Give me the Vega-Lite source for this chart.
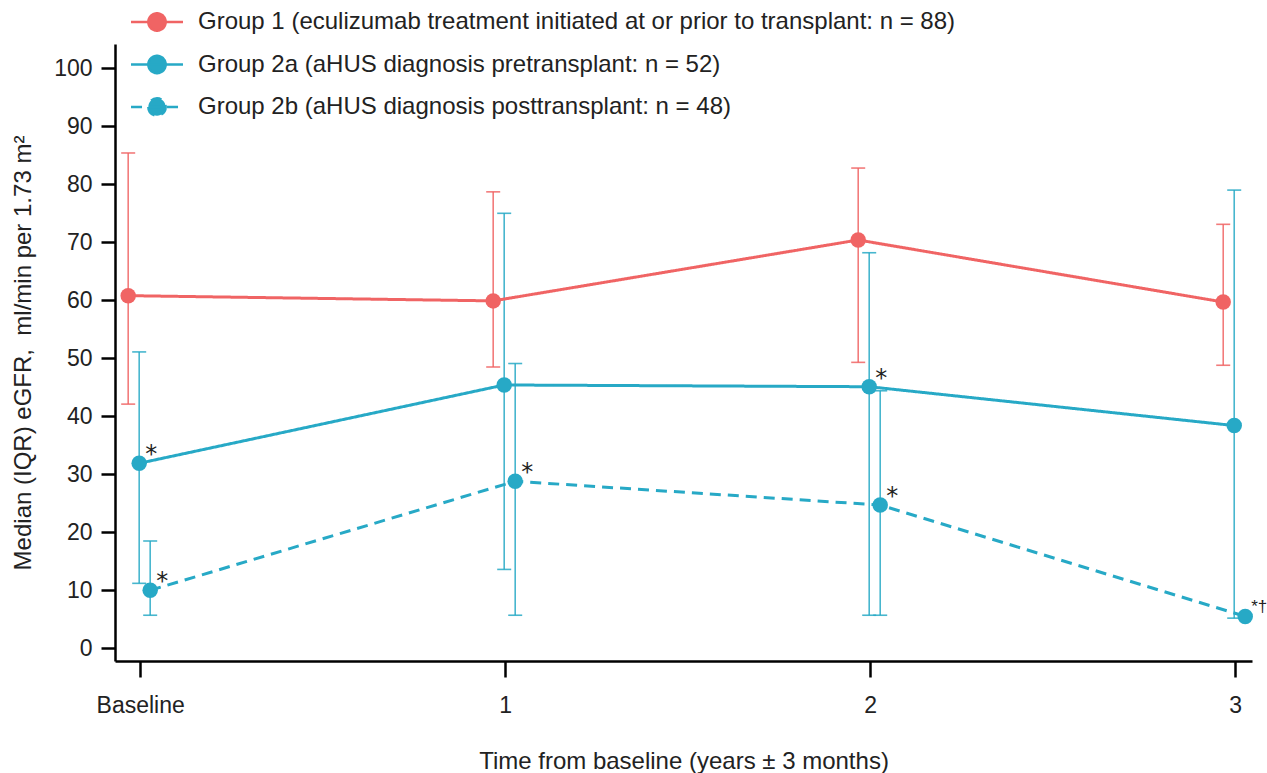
{
  "$schema": "https://vega.github.io/schema/vega-lite/v6.json",
  "width": 1137,
  "height": 617,
  "autosize": {"type": "none"},
  "padding": {"left": 115, "top": 44, "right": 15, "bottom": 112},
  "background": "white",
  "config": {"view": {"stroke": null}, "font": "Liberation Sans"},
  "data": {
    "values": [
      {"group": "Group 1", "time": "Baseline", "median": 60.8, "q1": 42.1, "q3": 85.4, "sig": ""},
      {"group": "Group 1", "time": "1", "median": 59.9, "q1": 48.5, "q3": 78.7, "sig": ""},
      {"group": "Group 1", "time": "2", "median": 70.4, "q1": 49.3, "q3": 82.8, "sig": ""},
      {"group": "Group 1", "time": "3", "median": 59.7, "q1": 48.8, "q3": 73.1, "sig": ""},
      {"group": "Group 2a", "time": "Baseline", "median": 31.9, "q1": 11.2, "q3": 51.1, "sig": "*"},
      {"group": "Group 2a", "time": "1", "median": 45.4, "q1": 13.6, "q3": 75.0, "sig": ""},
      {"group": "Group 2a", "time": "2", "median": 45.1, "q1": 5.7, "q3": 68.2, "sig": "*"},
      {"group": "Group 2a", "time": "3", "median": 38.4, "q1": 5.2, "q3": 79.0, "sig": ""},
      {"group": "Group 2b", "time": "Baseline", "median": 10.0, "q1": 5.7, "q3": 18.5, "sig": "*"},
      {"group": "Group 2b", "time": "1", "median": 28.8, "q1": 5.7, "q3": 49.1, "sig": "*"},
      {"group": "Group 2b", "time": "2", "median": 24.7, "q1": 5.7, "q3": 44.4, "sig": "*"},
      {"group": "Group 2b", "time": "3", "median": 5.5, "q1": null, "q3": null, "sig": "*†"}
    ]
  },
  "encoding": {
    "x": {
      "field": "time",
      "type": "ordinal",
      "scale": {"type": "point", "domain": ["Baseline", "1", "2", "3"], "padding": 0.0575, "align": 0.6},
      "axis": {
        "title": "Time from baseline (years ± 3 months)",
        "labelAngle": 0,
        "labelFontSize": 23,
        "titleFontSize": 24,
        "titleFontWeight": "normal",
        "tickSize": 16,
        "tickWidth": 2.5,
        "tickColor": "black",
        "domainColor": "black",
        "domainWidth": 2.5,
        "labelColor": "#222",
        "titleColor": "#222",
        "labelPadding": 17,
        "titlePadding": 32,
        "grid": false
      }
    },
    "xOffset": {
      "field": "group",
      "type": "nominal",
      "scale": {"type": "point", "domain": ["Group 1", "Group 2a", "Group 2b"], "range": [-12, 10], "padding": 0}
    },
    "color": {
      "field": "group",
      "type": "nominal",
      "scale": {"domain": ["Group 1", "Group 2a", "Group 2b"], "range": ["#F06464", "#27A9C6", "#27A9C6"]},
      "legend": {
        "title": null,
        "orient": "none",
        "legendX": 30,
        "legendY": -34,
        "symbolType": "M-3,0L3,0M-1,0A1,1,0,1,0,1,0A1,1,0,1,0,-1,0Z",
        "symbolSize": 300,
        "symbolStrokeWidth": 2.5,
        "symbolOpacity": 1,
        "labelFontSize": 24,
        "labelColor": "#222",
        "labelOffset": 29,
        "rowPadding": 14.5,
        "padding": 0,
        "labelLimit": 1000,
        "labelExpr": "datum.label == 'Group 1' ? 'Group 1 (eculizumab treatment initiated at or prior to transplant: n = 88)' : datum.label == 'Group 2a' ? 'Group 2a (aHUS diagnosis pretransplant: n = 52)' : 'Group 2b (aHUS diagnosis posttransplant: n = 48)'"
      }
    }
  },
  "layer": [
    {
      "mark": {"type": "rule", "strokeWidth": 1.6, "opacity": 0.85},
      "encoding": {
        "y": {
          "field": "q1",
          "type": "quantitative",
          "scale": {"domain": [-2.19, 104.19], "nice": false, "zero": false},
          "axis": {
            "title": "Median (IQR) eGFR,\u00a0 ml/min per 1.73 m²",
            "values": [0, 10, 20, 30, 40, 50, 60, 70, 80, 90, 100],
            "labelFontSize": 23,
            "titleFontSize": 24,
            "titleFontWeight": "normal",
            "tickSize": 14,
            "tickWidth": 2.5,
            "tickColor": "black",
            "domainColor": "black",
            "domainWidth": 2.5,
            "labelColor": "#222",
            "titleColor": "#222",
            "labelPadding": 9,
            "titlePadding": 18,
            "grid": false
          }
        },
        "y2": {"field": "q3"}
      }
    },
    {
      "mark": {"type": "tick", "orient": "horizontal", "size": 14, "thickness": 1.6, "opacity": 0.85},
      "encoding": {"y": {"field": "q1", "type": "quantitative"}}
    },
    {
      "mark": {"type": "tick", "orient": "horizontal", "size": 14, "thickness": 1.6, "opacity": 0.85},
      "encoding": {"y": {"field": "q3", "type": "quantitative"}}
    },
    {
      "mark": {"type": "line", "strokeWidth": 3},
      "encoding": {
        "y": {"field": "median", "type": "quantitative"},
        "strokeDash": {
          "field": "group",
          "type": "nominal",
          "scale": {"domain": ["Group 1", "Group 2a", "Group 2b"], "range": [[1, 0], [1, 0], [11, 7]]},
          "legend": {
            "title": null,
            "orient": "none",
            "legendX": 30,
            "legendY": -34,
            "symbolType": "M-3,0L3,0M-1,0A1,1,0,1,0,1,0A1,1,0,1,0,-1,0Z",
            "symbolSize": 300,
            "symbolStrokeWidth": 2.5,
            "symbolOpacity": 1,
            "labelFontSize": 24,
            "labelColor": "#222",
            "labelOffset": 29,
            "rowPadding": 14.5,
            "padding": 0,
            "labelLimit": 1000,
            "labelExpr": "datum.label == 'Group 1' ? 'Group 1 (eculizumab treatment initiated at or prior to transplant: n = 88)' : datum.label == 'Group 2a' ? 'Group 2a (aHUS diagnosis pretransplant: n = 52)' : 'Group 2b (aHUS diagnosis posttransplant: n = 48)'"
          }
        }
      }
    },
    {
      "mark": {"type": "point", "filled": true, "size": 240, "opacity": 1},
      "encoding": {"y": {"field": "median", "type": "quantitative"}}
    },
    {
      "transform": [{"filter": "datum.sig == '*'"}],
      "mark": {"type": "text", "align": "left", "baseline": "middle", "dx": 6, "dy": -8, "fontSize": 24, "font": "DejaVu Sans"},
      "encoding": {
        "y": {"field": "median", "type": "quantitative"},
        "text": {"field": "sig"},
        "color": {"value": "#222"}
      }
    },
    {
      "transform": [{"filter": "datum.sig == '*†'"}],
      "mark": {"type": "text", "align": "left", "baseline": "middle", "dx": 6, "dy": -9, "fontSize": 17},
      "encoding": {
        "y": {"field": "median", "type": "quantitative"},
        "text": {"field": "sig"},
        "color": {"value": "#222"}
      }
    }
  ]
}
